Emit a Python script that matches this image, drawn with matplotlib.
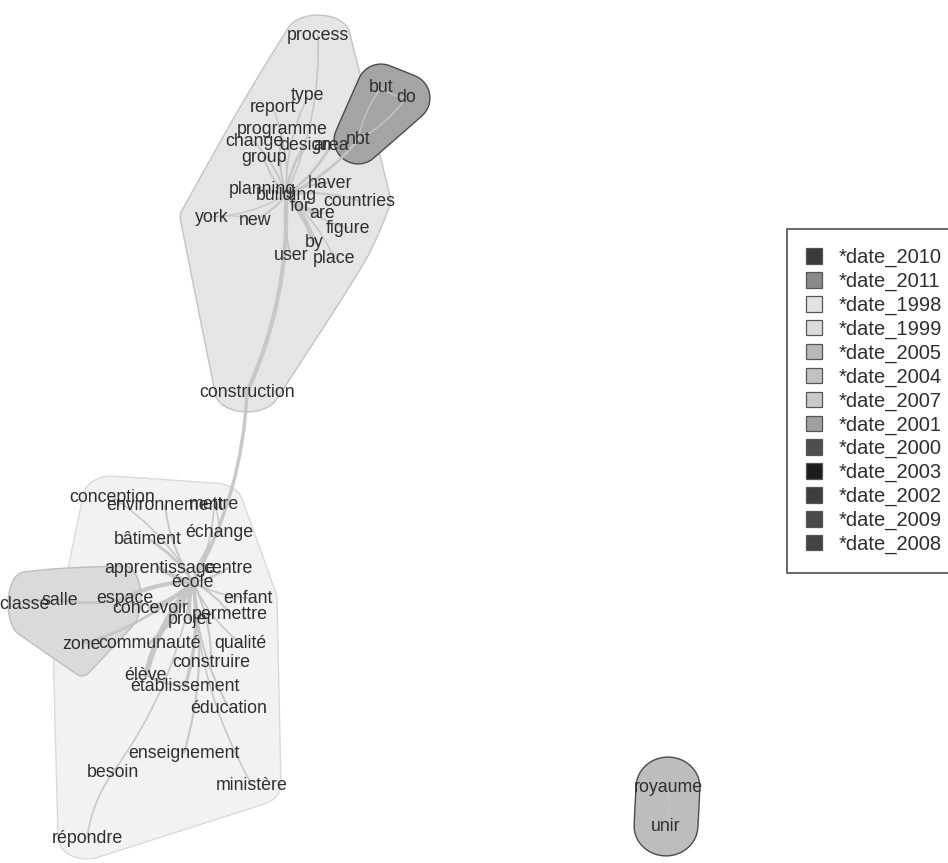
import numpy as np
import matplotlib
matplotlib.use("Agg")
import matplotlib.pyplot as plt
from matplotlib.patches import Polygon, Patch
from matplotlib.path import Path
from matplotlib.patches import PathPatch

plt.rcParams['font.family'] = ['Liberation Sans', 'DejaVu Sans']

# ---------------- data ----------------
words = ["process", "type", "report", "programme", "change", "design", "area", "nbt",
         "group", "but", "do", "planning", "building", "haver", "for", "countries",
         "are", "york", "new", "figure", "by", "user", "place", "construction",
         "conception", "environnement", "mettre", "échange", "bâtiment", "apprentissage",
         "centre", "école", "classe", "salle", "espace", "concevoir", "enfant", "permettre",
         "projet", "zone", "communauté", "qualité", "construire", "élève", "établissement",
         "éducation", "enseignement", "besoin", "ministère", "répondre", "royaume", "unir"]
word_x = [318, 308, 273, 282, 254, 305, 331, 358,
          264, 381, 406, 262, 286, 330, 300, 359,
          322, 212, 255, 348, 314, 291, 334, 247,
          112, 165, 214, 219, 148, 160,
          228, 193, 24, 60, 125, 150, 248, 230,
          190, 82, 150, 240, 211, 146, 185,
          229, 184, 113, 252, 87, 668, 666]
word_y = [35, 96, 108, 129, 142, 145, 145, 140,
          158, 88, 98, 190, 195, 183, 206, 201,
          213, 217, 220, 228, 242, 255, 258, 392,
          497, 505, 504, 532, 539, 568,
          568, 582, 604, 600, 598, 608, 598, 614,
          619, 644, 643, 643, 662, 675, 686,
          708, 753, 772, 785, 838, 787, 826]

groups = {
    "top":    ["process", "type", "report", "programme", "change", "design", "area", "group",
               "planning", "building", "haver", "for", "countries", "are", "york", "new",
               "figure", "by", "user", "place", "construction"],
    "dark":   ["but", "do", "nbt"],
    "bottom": ["conception", "environnement", "mettre", "échange", "bâtiment", "apprentissage",
               "centre", "école", "espace", "concevoir", "enfant", "permettre", "projet",
               "communauté", "qualité", "construire", "élève", "établissement", "éducation",
               "enseignement", "besoin", "ministère", "répondre", "zone"],
    "classe": ["classe", "salle", "zone", "espace"],
    "uk":     ["royaume", "unir"],
}
group_face = {"top": "#e5e5e5", "dark": "#a4a4a4", "bottom": "#f2f2f2",
              "classe": "#dadada", "uk": "#bdbdbd"}
group_edge = {"top": "#c4c4c4", "dark": "#4a4a4a", "bottom": "#dadada",
              "classe": "#bdbdbd", "uk": "#4a4a4a"}
group_pad = {"top": (32, 20), "dark": (24, 24), "bottom": (29, 21),
             "classe": (16, 32), "uk": (32, 30)}

edge_src = ["building"] * 20 + ["construction", "construction", "but", "nbt", "nbt", "york"] + \
           ["école"] * 22 + ["salle", "espace", "besoin", "mettre", "élève", "royaume"]
edge_dst = ["process", "type", "report", "programme", "change", "design", "area", "group",
            "planning", "haver", "for", "countries", "are", "new", "figure", "by", "user",
            "place", "nbt", "york",
            "building", "école", "do", "but", "do", "new",
            "conception", "environnement", "bâtiment", "échange", "centre", "apprentissage",
            "espace", "concevoir", "enfant", "permettre", "projet", "communauté", "qualité",
            "construire", "élève", "établissement", "éducation", "enseignement", "ministère",
            "zone", "mettre", "besoin",
            "classe", "salle", "répondre", "échange", "établissement", "unir"]
edge_w = [1.2, 1.2, 1.0, 1.5, 1.5, 2.0, 2.0, 1.5,
          1.5, 1.5, 3.0, 1.5, 2.0, 1.5, 1.2, 3.5, 1.5,
          1.2, 2.0, 1.0,
          3.0, 2.5, 1.2, 1.2, 1.2, 1.0,
          1.2, 1.5, 2.0, 1.2, 1.5, 3.0,
          3.0, 3.0, 1.2, 1.5, 3.0, 2.5, 1.2,
          1.5, 4.0, 2.5, 1.5, 1.5, 1.2,
          2.0, 1.2, 1.2,
          1.5, 2.0, 1.2, 1.0, 1.5, 1.0]

legend_labels = ["*date_2010", "*date_2011", "*date_1998", "*date_1999", "*date_2005",
                 "*date_2004", "*date_2007", "*date_2001", "*date_2000", "*date_2003",
                 "*date_2002", "*date_2009", "*date_2008"]
legend_colors = ["#3a3a3a", "#8a8a8a", "#e2e2e2", "#dcdcdc", "#b8b8b8",
                 "#c2c2c2", "#cacaca", "#a0a0a0", "#4e4e4e", "#1c1c1c",
                 "#3e3e3e", "#4a4a4a", "#444444"]

# ---------------- helpers ----------------
pos = {w: (x, y) for w, x, y in zip(words, word_x, word_y)}


def convex_hull(pts):
    pts = sorted(set(map(tuple, pts)))
    def cross(o, a, b):
        return (a[0]-o[0])*(b[1]-o[1]) - (a[1]-o[1])*(b[0]-o[0])
    lower, upper = [], []
    for p in pts:
        while len(lower) >= 2 and cross(lower[-2], lower[-1], p) <= 0:
            lower.pop()
        lower.append(p)
    for p in reversed(pts):
        while len(upper) >= 2 and cross(upper[-2], upper[-1], p) <= 0:
            upper.pop()
        upper.append(p)
    return np.array(lower[:-1] + upper[:-1])


def chaikin(poly, n=4):
    for _ in range(n):
        q = 0.75 * poly + 0.25 * np.roll(poly, -1, axis=0)
        r = 0.25 * poly + 0.75 * np.roll(poly, -1, axis=0)
        poly = np.empty((2 * len(poly), 2))
        poly[0::2] = q
        poly[1::2] = r
    return poly


def blob(names, rx, ry):
    t = np.linspace(0, 2 * np.pi, 36, endpoint=False)
    pts = []
    for nm in names:
        x, y = pos[nm]
        pts += list(zip(x + rx * np.cos(t), y + ry * np.sin(t)))
    return chaikin(convex_hull(np.round(pts, 3)))


# ---------------- figure ----------------
fig = plt.figure(figsize=(9.48, 8.63), dpi=100)
ax = fig.add_axes([0, 0, 1, 1])
ax.set_xlim(0, 948)
ax.set_ylim(863, 0)
ax.axis("off")

order = ["bottom", "top", "classe", "dark", "uk"]
for i, g in enumerate(order):
    rx, ry = group_pad[g]
    poly = blob(groups[g], rx, ry)
    ax.add_patch(Polygon(poly, closed=True, facecolor=group_face[g],
                         edgecolor=group_edge[g], linewidth=1.0, zorder=1 + i * 0.1))

sign = 1
for s, d, w in zip(edge_src, edge_dst, edge_w):
    p0 = np.array(pos[s], float)
    p2 = np.array(pos[d], float)
    v = p2 - p0
    L = np.hypot(*v)
    perp = np.array([-v[1], v[0]]) / (L + 1e-9)
    c = (p0 + p2) / 2 + perp * 0.12 * L * sign
    sign = -sign
    path = Path([tuple(p0), tuple(c), tuple(p2)], [Path.MOVETO, Path.CURVE3, Path.CURVE3])
    ax.add_patch(PathPatch(path, facecolor="none", edgecolor="#c4c4c4",
                           linewidth=w, alpha=0.9, zorder=2, capstyle="round"))

for w, x, y in zip(words, word_x, word_y):
    ax.text(x, y, w, fontsize=12.8, color="#2e2e2e", ha="center", va="center", zorder=5)

handles = [Patch(facecolor=c, edgecolor="#555555", linewidth=0.9) for c in legend_colors]
leg = fig.legend(handles, legend_labels, loc="upper left",
                 bbox_to_anchor=(787 / 948, 1 - 229 / 863), frameon=True, fancybox=False,
                 fontsize=14.5, handlelength=0.8, handleheight=0.8, handletextpad=0.8,
                 labelspacing=0.23, borderpad=0.95, borderaxespad=0)
leg.get_frame().set_edgecolor("#222222")
leg.get_frame().set_linewidth(1.2)
for t in leg.get_texts():
    t.set_color("#2e2e2e")

fig.savefig("out.png", dpi=100)
